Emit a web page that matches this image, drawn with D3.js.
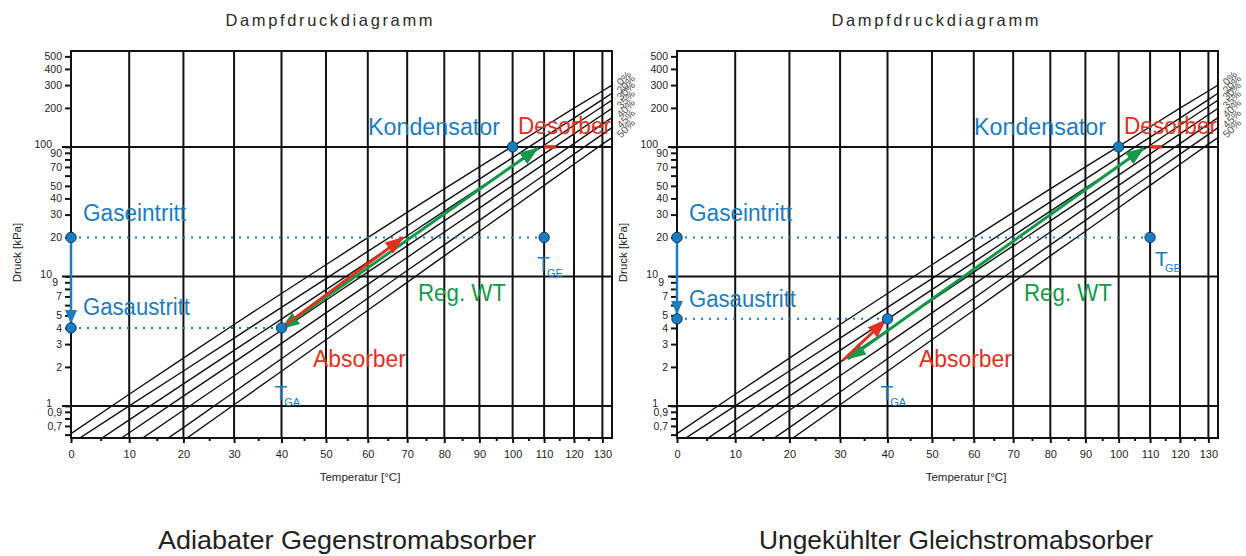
<!DOCTYPE html>
<html>
<head>
<meta charset="utf-8">
<script src="https://cdn.jsdelivr.net/npm/d3@7"></script>
<style>
body { margin: 0; background: #fff; }
text { font-family: "Liberation Sans", Arial, sans-serif; }
</style>
</head>
<body>
<svg id="chart" width="1246" height="556"></svg>
<script>
// temperatures (°C) at which the concentration lines were read
const temps = [0, 10, 20, 30, 40, 50, 60, 70, 80, 90, 100, 110, 120, 130, 135]
const concLabels = ["0%", "20%", "30%", "35%", "40%", "45%", "50%"]
// vapour pressure in kPa, one list per concentration
const p00 = [0.61, 1.23, 2.34, 4.25, 7.38, 12.3, 19.9, 31.2, 47.4, 70.1, 101, 143, 199, 270, 313]
const p20 = [0.51, 1.00, 1.86, 3.34, 5.76, 9.62, 15.6, 24.5, 37.6, 56.3, 82.5, 119, 167, 232, 272]
const p30 = [0.39, 0.78, 1.48, 2.68, 4.68, 7.91, 12.9, 20.6, 31.9, 48.1, 71.2, 103, 147, 205, 241]
const p35 = [0.31, 0.62, 1.19, 2.18, 3.84, 6.54, 10.8, 17.2, 26.8, 40.7, 60.6, 88.3, 126, 177, 208]
const p40 = [0.236, 0.48, 0.925, 1.71, 3.04, 5.23, 8.68, 14.0, 22.0, 33.7, 50.4, 73.9, 106, 150, 177]
const p45 = [0.17, 0.35, 0.68, 1.28, 2.31, 4.03, 6.78, 11.1, 17.5, 27.1, 41.0, 60.7, 88.0, 125, 148]
const p50 = [0.13, 0.27, 0.54, 1.02, 1.85, 3.24, 5.48, 9.0, 14.4, 22.3, 33.9, 50.4, 73.4, 105, 124]
const concLines = [p00, p20, p30, p35, p40, p45, p50]

const xTicks = [0, 10, 20, 30, 40, 50, 60, 70, 80, 90, 100, 110, 120, 130]
const xMinor = [5, 15, 25, 35, 45, 55, 65, 75, 85, 95, 105, 115, 125]
const yTicks = [0.6, 0.7, 0.8, 0.9, 1, 2, 3, 4, 5, 6, 7, 8, 9, 10, 20, 30, 40, 50, 60, 70, 80, 90, 100, 200, 300, 400, 500]
const yTickText = ["", "0,7", "", "0,9", "1", "2", "3", "4", "5", "", "7", "", "9", "10", "20", "30", "40", "50", "", "70", "", "90", "100", "200", "300", "400", "500"]
const yGrid = [1, 10, 100]

// process states per panel [T °C, p kPa]
const captions = ["Adiabater Gegenstromabsorber", "Ungekühlter Gleichstromabsorber"]
const gasIn = [[0, 20], [0, 20]]
const gasOut = [[0, 4], [0, 4.7]]
const tGE = [[110, 20], [110, 20]]
const tGA = [[40, 4], [40, 4.7]]
const condenser = [[100, 100], [100, 100]]
const desorber = [[[110, 100], [114, 100]], [[110, 100], [114, 100]]]
const absorber = [[[40, 4], [69, 20]], [[30.6, 2.25], [39.6, 4.6]]]
const regWT = [[[40, 3.95], [108, 98]], [[31.6, 2.3], [108, 98]]]

const svg = d3.select("#chart")
const W = 541, H = 387
const K = 273.15
const inv = t => -1 / (t + K)
const xs = d3.scaleLinear().domain([inv(0), inv(133.5)]).range([0, W])
const x = t => xs(inv(t))
const y = d3.scaleLog().domain([0.565, 550]).range([H, 0])

const blue = "#1a7cc1", red = "#e2301f", green = "#14984a"

// arrow markers
const defs = svg.append("defs")
;[["blue", blue, 14, 12], ["red", red, 19, 14], ["green", green, 19, 14]].forEach(([n, c, l, w]) => {
  defs.append("marker").attr("id", "arr-" + n)
    .attr("viewBox", `0 0 ${l} ${w}`).attr("refX", l - 1).attr("refY", w / 2)
    .attr("markerWidth", l).attr("markerHeight", w).attr("markerUnits", "userSpaceOnUse")
    .attr("orient", "auto-start-reverse")
    .append("path").attr("d", `M0,0 L${l},${w / 2} L0,${w} Z`).attr("fill", c)
})
defs.append("clipPath").attr("id", "plotclip").append("rect").attr("width", W).attr("height", H)

function drawPanel(ox, i) {
  const g = svg.append("g").attr("transform", `translate(${ox},51)`)

  // title and caption
  svg.append("text").attr("x", ox + 258).attr("y", 26).attr("text-anchor", "middle")
    .attr("font-size", 16.5).attr("fill", "#2a2a2a").attr("textLength", 207).attr("lengthAdjust", "spacing")
    .text("Dampfdruckdiagramm")
  svg.append("text").attr("x", ox + (i == 0 ? 276 : 279)).attr("y", 549).attr("text-anchor", "middle")
    .attr("font-size", 26).attr("fill", "#222").attr("textLength", i == 0 ? 378 : 394).attr("lengthAdjust", "spacingAndGlyphs")
    .text(captions[i])

  // x axis
  const xt = d3.scaleLinear().domain(xs.domain()).range(xs.range())
  const xAxis = d3.axisBottom(xt).tickValues(xTicks.map(inv)).tickSize(5).tickPadding(7)
    .tickFormat(v => Math.round(-1 / v - K))
  const gx = g.append("g").attr("transform", `translate(0,${H})`).call(xAxis)
  gx.select(".domain").remove()
  gx.selectAll("line").attr("stroke", "#111").attr("stroke-width", 2)
  gx.selectAll("text").attr("font-size", 11).attr("fill", "#222").attr("font-family", "Liberation Sans, Arial")
  const gxm = g.append("g").attr("transform", `translate(0,${H})`)
    .call(d3.axisBottom(xt).tickValues(xMinor.map(inv)).tickSize(3).tickFormat(""))
  gxm.select(".domain").remove()
  gxm.selectAll("line").attr("stroke", "#111").attr("stroke-width", 2)

  // y axis
  const yAxis = d3.axisLeft(y).tickValues(yTicks).tickSize(6).tickPadding(3)
    .tickFormat((d, k) => yTickText[k])
  const gy = g.append("g").call(yAxis)
  gy.select(".domain").remove()
  gy.selectAll("line").attr("stroke", "#111").attr("stroke-width", 2)
  gy.selectAll("text").attr("font-size", 10.5).attr("fill", "#222").attr("font-family", "Liberation Sans, Arial")
  gy.selectAll(".tick").filter(d => yGrid.includes(d)).select("text").attr("x", -19).attr("dy", "0.1em")
  gy.selectAll(".tick").filter(d => d == 9).select("text").attr("x", -13).attr("dy", "0.3em")

  g.append("text").attr("transform", `translate(-50,${H / 2 + 8}) rotate(-90)`).attr("text-anchor", "middle")
    .attr("font-size", 11.5).attr("fill", "#222").text("Druck [kPa]")
  g.append("text").attr("x", 289).attr("y", H + 43).attr("text-anchor", "middle")
    .attr("font-size", 11.5).attr("fill", "#222").text("Temperatur [°C]")

  // grid
  g.selectAll(".vgrid").data(xTicks.slice(1)).join("line").attr("class", "vgrid")
    .attr("x1", d => x(d)).attr("x2", d => x(d)).attr("y1", 0).attr("y2", H)
    .attr("stroke", "#111").attr("stroke-width", 2)
  g.selectAll(".hgrid").data(yGrid).join("line").attr("class", "hgrid")
    .attr("x1", -9).attr("x2", W).attr("y1", d => y(d)).attr("y2", d => y(d))
    .attr("stroke", "#111").attr("stroke-width", 2)
  g.append("rect").attr("width", W).attr("height", H).attr("fill", "none")
    .attr("stroke", "#111").attr("stroke-width", 2)

  // concentration lines
  const line = d3.line().x((d, k) => x(temps[k])).y(d => y(d))
  g.append("g").attr("clip-path", "url(#plotclip)").selectAll("path").data(concLines).join("path")
    .attr("d", line).attr("fill", "none").attr("stroke", "#111").attr("stroke-width", 1.4)
  g.selectAll(".clab").data(concLines).join("text").attr("class", "clab")
    .attr("transform", d => {
      const yEnd = d3.scaleLinear().domain([x(temps[13]), x(temps[14])]).range([y(d[13]), y(d[14])])(W)
      return `translate(${W + 9},${yEnd + 1}) rotate(-45)`
    })
    .attr("font-size", 10.5).attr("fill", "#555").text((d, k) => concLabels[k])

  const pt = d => [x(d[0]), y(d[1])]

  // dotted gas lines
  ;[[gasIn[i], tGE[i]], [gasOut[i], tGA[i]]].forEach(s => {
    g.append("line").attr("x1", pt(s[0])[0]).attr("y1", pt(s[0])[1]).attr("x2", pt(s[1])[0]).attr("y2", pt(s[1])[1])
      .attr("stroke", blue).attr("stroke-width", 2).attr("stroke-dasharray", "2,6")
  })
  // gas path arrow
  g.append("line").attr("x1", pt(gasIn[i])[0]).attr("y1", pt(gasIn[i])[1])
    .attr("x2", pt(gasOut[i])[0]).attr("y2", pt(gasOut[i])[1] - 5)
    .attr("stroke", blue).attr("stroke-width", 2.5).attr("marker-end", "url(#arr-blue)")

  // regenerative heat exchanger
  g.append("line").attr("x1", pt(regWT[i][0])[0]).attr("y1", pt(regWT[i][0])[1])
    .attr("x2", pt(regWT[i][1])[0]).attr("y2", pt(regWT[i][1])[1])
    .attr("stroke", green).attr("stroke-width", 3)
    .attr("marker-start", "url(#arr-green)").attr("marker-end", "url(#arr-green)")
  // absorber
  g.append("line").attr("x1", pt(absorber[i][0])[0]).attr("y1", pt(absorber[i][0])[1])
    .attr("x2", pt(absorber[i][1])[0]).attr("y2", pt(absorber[i][1])[1])
    .attr("stroke", red).attr("stroke-width", 3).attr("marker-end", "url(#arr-red)")
  // desorber
  g.append("line").attr("x1", pt(desorber[i][0])[0]).attr("y1", pt(desorber[i][0])[1])
    .attr("x2", pt(desorber[i][1])[0]).attr("y2", pt(desorber[i][1])[1])
    .attr("stroke", red).attr("stroke-width", 3.5)

  // state points
  g.selectAll(".dot").data([gasIn[i], gasOut[i], tGE[i], tGA[i], condenser[i]]).join("circle").attr("class", "dot")
    .attr("cx", d => pt(d)[0]).attr("cy", d => pt(d)[1]).attr("r", 5.2)
    .attr("fill", blue).attr("stroke", "#0b3b63").attr("stroke-width", 1)

  // labels
  const lab = (txt, lx, ly, col, len, fs) => g.append("text").attr("x", lx).attr("y", ly)
    .attr("font-size", fs || 23).attr("fill", col).attr("textLength", len).attr("lengthAdjust", "spacingAndGlyphs").text(txt)
  lab("Kondensator", 297, 84, blue, 132)
  lab("Desorber", 447, 83, red, 93)
  lab("Gaseintritt", 12, 170, blue, 103)
  lab("Gasaustritt", 12, i == 0 ? 264 : 256, blue, 107)
  lab("Reg. WT", 347, 250, green, 88)
  lab("Absorber", 242, 316, red, 93)
  // temperature markers
  const tga = g.append("text").attr("x", x(tGA[i][0]) - 7).attr("y", 349).attr("font-size", 21).attr("fill", blue)
  tga.append("tspan").text("T")
  tga.append("tspan").attr("font-size", 11).attr("dy", 6).attr("dx", -3).text("GA")
  const tge = g.append("text").attr("x", x(tGE[i][0]) - 7 + (i == 0 ? 0 : 12)).attr("y", i == 0 ? 220 : 215).attr("font-size", 21).attr("fill", blue)
  tge.append("tspan").text("T")
  tge.append("tspan").attr("font-size", 11).attr("dy", 6).attr("dx", -3).text("GE")
}

drawPanel(71, 0)
drawPanel(677, 1)
</script>
</body>
</html>
